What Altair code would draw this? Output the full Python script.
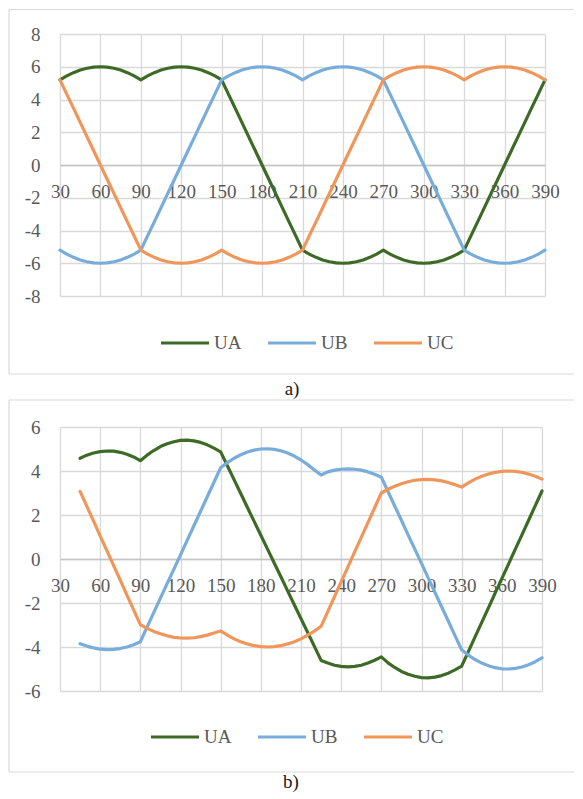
import altair as alt
import pandas as pd

PHASES = ["UA", "UB", "UC"]
COLORS = ["#3d6b26", "#78acdb", "#f0965a"]
X_TICKS = [30, 60, 90, 120, 150, 180, 210, 240, 270, 300, 330, 360, 390]
Y_TICKS_A = [-8, -6, -4, -2, 0, 2, 4, 6, 8]
Y_TICKS_B = [-6, -4, -2, 0, 2, 4, 6]
CAPTIONS = ["a)", "b)"]

# panel a) angles 30..390 every 5 degrees
ANGLES_A = list(range(30, 391, 5))
UA_A = [5.20, 5.44, 5.64, 5.80, 5.91, 5.98, 6.00, 5.98, 5.91, 5.80, 5.64, 5.44, 5.20,
        5.44, 5.64, 5.80, 5.91, 5.98, 6.00, 5.98, 5.91, 5.80, 5.64, 5.44, 5.20,
        4.33, 3.47, 2.60, 1.73, 0.87, 0.00, -0.87, -1.73, -2.60, -3.47, -4.33, -5.20,
        -5.44, -5.64, -5.80, -5.91, -5.98, -6.00, -5.98, -5.91, -5.80, -5.64, -5.44, -5.20,
        -5.44, -5.64, -5.80, -5.91, -5.98, -6.00, -5.98, -5.91, -5.80, -5.64, -5.44, -5.20,
        -4.33, -3.47, -2.60, -1.73, -0.87, 0.00, 0.87, 1.73, 2.60, 3.47, 4.33, 5.20]
UB_A = [-5.20, -5.44, -5.64, -5.80, -5.91, -5.98, -6.00, -5.98, -5.91, -5.80, -5.64, -5.44, -5.20,
        -4.33, -3.47, -2.60, -1.73, -0.87, 0.00, 0.87, 1.73, 2.60, 3.47, 4.33, 5.20,
        5.44, 5.64, 5.80, 5.91, 5.98, 6.00, 5.98, 5.91, 5.80, 5.64, 5.44, 5.20,
        5.44, 5.64, 5.80, 5.91, 5.98, 6.00, 5.98, 5.91, 5.80, 5.64, 5.44, 5.20,
        4.33, 3.47, 2.60, 1.73, 0.87, 0.00, -0.87, -1.73, -2.60, -3.47, -4.33, -5.20,
        -5.44, -5.64, -5.80, -5.91, -5.98, -6.00, -5.98, -5.91, -5.80, -5.64, -5.44, -5.20]
UC_A = [5.20, 4.33, 3.47, 2.60, 1.73, 0.87, 0.00, -0.87, -1.73, -2.60, -3.47, -4.33, -5.20,
        -5.44, -5.64, -5.80, -5.91, -5.98, -6.00, -5.98, -5.91, -5.80, -5.64, -5.44, -5.20,
        -5.44, -5.64, -5.80, -5.91, -5.98, -6.00, -5.98, -5.91, -5.80, -5.64, -5.44, -5.20,
        -4.33, -3.47, -2.60, -1.73, -0.87, 0.00, 0.87, 1.73, 2.60, 3.47, 4.33, 5.20,
        5.44, 5.64, 5.80, 5.91, 5.98, 6.00, 5.98, 5.91, 5.80, 5.64, 5.44, 5.20,
        5.44, 5.64, 5.80, 5.91, 5.98, 6.00, 5.98, 5.91, 5.80, 5.64, 5.44, 5.20]

# panel b) angles 45..390 every 5 degrees
ANGLES_B = list(range(45, 391, 5))
UA_B = [4.58, 4.72, 4.82, 4.88, 4.91, 4.90, 4.85, 4.76, 4.64, 4.47,
        4.72, 4.93, 5.11, 5.24, 5.33, 5.39, 5.40, 5.37, 5.30, 5.19, 5.04, 4.87,
        4.24, 3.61, 2.98, 2.34, 1.71, 1.08, 0.45, -0.18, -0.81, -1.45, -2.08, -2.71, -3.34, -3.97, -4.61,
        -4.73, -4.83, -4.88, -4.90, -4.88, -4.83, -4.73, -4.60, -4.45,
        -4.72, -4.93, -5.11, -5.24, -5.33, -5.39, -5.40, -5.37, -5.30, -5.19, -5.04, -4.87,
        -4.21, -3.54, -2.88, -2.22, -1.55, -0.89, -0.23, 0.44, 1.10, 1.76, 2.43, 3.09]
UB_B = [-3.85, -3.96, -4.04, -4.10, -4.12, -4.11, -4.07, -4.00, -3.90, -3.76,
        -3.10, -2.44, -1.78, -1.12, -0.47, 0.19, 0.85, 1.51, 2.17, 2.83, 3.49, 4.15,
        4.38, 4.58, 4.74, 4.86, 4.95, 5.00, 5.01, 4.98, 4.92, 4.82, 4.68, 4.50, 4.29, 4.05, 3.82,
        3.96, 4.04, 4.08, 4.10, 4.08, 4.04, 3.96, 3.85, 3.72,
        3.07, 2.41, 1.76, 1.10, 0.45, -0.20, -0.86, -1.51, -2.17, -2.82, -3.48, -4.13,
        -4.37, -4.57, -4.73, -4.85, -4.94, -4.99, -5.00, -4.97, -4.91, -4.81, -4.67, -4.49]
UC_B = [3.07, 2.40, 1.73, 1.05, 0.38, -0.29, -0.96, -1.64, -2.31, -2.98,
        -3.15, -3.29, -3.40, -3.49, -3.56, -3.59, -3.60, -3.58, -3.53, -3.46, -3.36, -3.27,
        -3.46, -3.63, -3.76, -3.86, -3.94, -3.98, -4.00, -3.98, -3.94, -3.86, -3.76, -3.63, -3.46, -3.28, -3.06,
        -2.39, -1.71, -1.04, -0.37, 0.31, 0.98, 1.65, 2.33, 3.00,
        3.17, 3.31, 3.42, 3.51, 3.58, 3.61, 3.62, 3.60, 3.55, 3.48, 3.38, 3.27,
        3.46, 3.63, 3.76, 3.86, 3.94, 3.98, 4.00, 3.98, 3.94, 3.86, 3.76, 3.63]

FONT = "Liberation Serif"
GRID = "#d9d9d9"
LABEL = "#595959"
HYPHEN = "replace(datum.label, '\u2212', '-')"


def long_df(angles, series):
    rows = []
    for name, vals in zip(PHASES, series):
        for a, v in zip(angles, vals):
            rows.append({"angle": a, "value": v, "phase": name})
    return pd.DataFrame(rows)


def panel(df, ydom, yticks, w, h, frame, legend_xy, caption, cap_xy):
    lines = alt.Chart(df).mark_line(strokeWidth=3.2, strokeJoin="round", strokeCap="round").encode(
        x=alt.X("angle:Q",
                scale=alt.Scale(domain=[30, 390], nice=False, zero=False),
                axis=alt.Axis(values=X_TICKS, title=None, orient="bottom", offset=-h / 2,
                              labelPadding=17, ticks=False, grid=True, gridColor=GRID,
                              gridWidth=1.3, domain=True, domainColor="#c4c4c4", domainWidth=1.3,
                              labelFont=FONT, labelFontSize=19, labelColor=LABEL,
                              labelFlush=False, labelOverlap=False, labelBound=False)),
        y=alt.Y("value:Q",
                scale=alt.Scale(domain=ydom, nice=False, zero=False),
                axis=alt.Axis(values=yticks, title=None, ticks=False, domain=False, grid=True,
                              gridColor=GRID, gridWidth=1.3, labelPadding=20, labelExpr=HYPHEN,
                              labelFont=FONT, labelFontSize=19, labelColor=LABEL)),
        color=alt.Color("phase:N",
                        scale=alt.Scale(domain=PHASES, range=COLORS),
                        legend=alt.Legend(orient="none", legendX=legend_xy[0], legendY=legend_xy[1],
                                          direction="horizontal", title=None, symbolType="stroke",
                                          symbolSize=2304, symbolStrokeWidth=3.2, labelOffset=3,
                                          columnPadding=19, padding=0, labelFont=FONT,
                                          labelFontSize=19, labelColor=LABEL)),
    )
    one = pd.DataFrame({"k": [0]})
    x0, x1, y0, y1 = frame
    edge = alt.Chart(one).mark_rule(stroke=GRID, strokeWidth=1.2)
    top = edge.encode(x=alt.value(x0), x2=alt.value(x1), y=alt.value(y0))
    bottom = edge.encode(x=alt.value(x0), x2=alt.value(x1), y=alt.value(y1))
    left = edge.encode(x=alt.value(x0), y=alt.value(y0), y2=alt.value(y1))
    cap = alt.Chart(one).mark_text(font=FONT, fontSize=19, color="#1a1a1a", baseline="middle",
                                   align="center").encode(
        x=alt.value(cap_xy[0]), y=alt.value(cap_xy[1]), text=alt.value(caption))
    return alt.layer(top, bottom, left, lines, cap).properties(width=w, height=h)


df_a = long_df(ANGLES_A, [UA_A, UB_A, UC_A])
df_b = long_df(ANGLES_B, [UA_B, UB_B, UC_B])

pa = panel(df_a, [-8, 8], Y_TICKS_A, 485, 262, (-51, 514, -24.5, 340), (99, 283), CAPTIONS[0], (232, 355))
pb = panel(df_b, [-6, 6], Y_TICKS_B, 482, 264, (-51, 514, -27, 345), (89, 284), CAPTIONS[1], (231, 354.5))

chart = alt.vconcat(
    pa, pb, spacing=131, bounds="flush",
    padding={"left": 0, "top": 0, "right": 0, "bottom": 0},
    autosize=alt.AutoSizeParams(type="pad"),
).resolve_scale(
    x="independent", y="independent", color="independent").resolve_legend(
    color="independent").configure_view(strokeWidth=0)

chart.save("out.html", embed_options={"renderer": "svg", "actions": False})
